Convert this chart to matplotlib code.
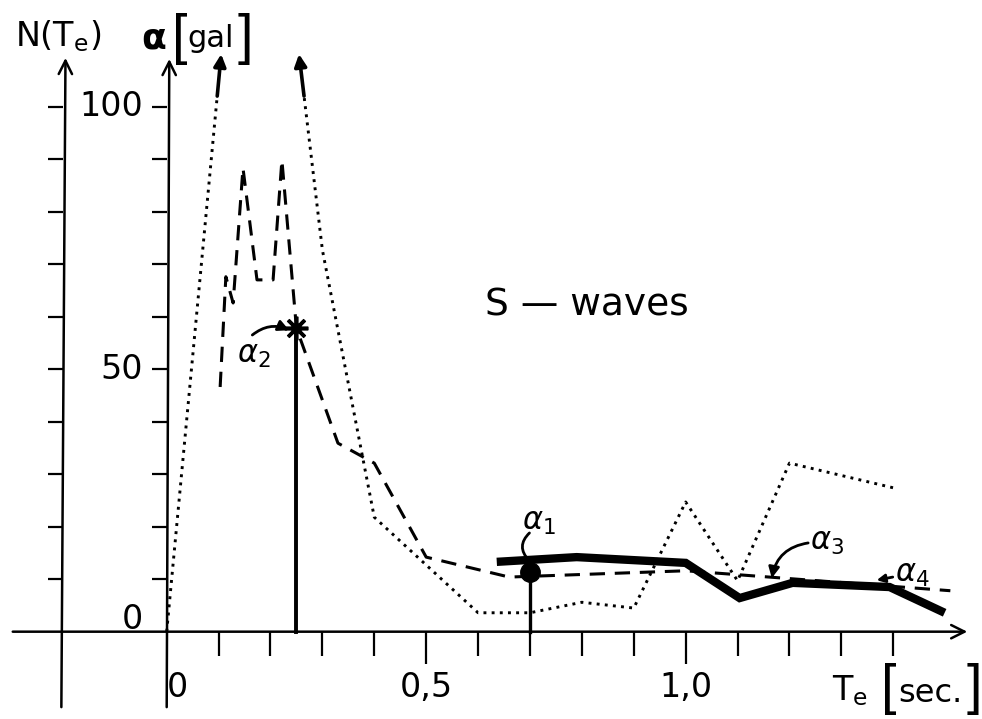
import numpy as np
import matplotlib
matplotlib.use('Agg')
import matplotlib.pyplot as plt
from matplotlib.patches import Rectangle

plt.rcParams['font.family'] = ['DejaVu Sans']
plt.rcParams['mathtext.fontset'] = 'dejavusans'

# dotted curve (goes off scale between ~0.1 and ~0.25 s)
dot_t = [0.0, 0.105, 0.255, 0.3, 0.4, 0.5, 0.6, 0.7, 0.8, 0.9, 1.0, 1.1, 1.2, 1.4]
dot_v = [0, 110, 110, 72.7, 21.8, 12.7, 3.6, 3.6, 5.6, 4.5, 24.7, 9.7, 32.1, 27.4]

# dashed curve
dash_t = [0.103, 0.114, 0.128, 0.147, 0.174, 0.205, 0.222, 0.25, 0.33, 0.4, 0.5, 0.66, 1.0, 1.51]
dash_v = [46.6, 67.6, 62.6, 88.3, 67.0, 67.0, 89.8, 57.8, 35.9, 32.1, 14.2, 10.4, 11.6, 7.8]

# thick solid curve
thick_t = [0.636, 0.79, 1.0, 1.104, 1.206, 1.393, 1.499]
thick_v = [13.3, 14.2, 13.1, 6.4, 9.3, 8.5, 3.6]

# marked points
a1_t, a1_v = 0.7, 11.4
a2_t, a2_v = 0.25, 57.8

x_major = [0.5, 1.0]
x_minor = [0.1, 0.2, 0.3, 0.4, 0.6, 0.7, 0.8, 0.9, 1.1, 1.2, 1.3, 1.4]
x_lab_vals = [0.0, 0.5, 1.0]
x_lab_text = ['0', '0,5', '1,0']
y_ticks = np.arange(10, 101, 10)
y_lab_vals = [0, 50, 100]
y_lab_text = ['0', '50', '100']

T_N = -0.199          # position of the N(Te) axis
xmin, xmax = -0.3212, 1.571
ymin, ymax = -16.63, 120.3
cap = 102             # dotted line is cut here, arrows go on

fig = plt.figure(figsize=(9.82, 7.19), dpi=100)
ax = fig.add_axes([0, 0, 1, 1])
ax.set_xlim(xmin, xmax)
ax.set_ylim(ymin, ymax)

for s in ['top', 'right']:
    ax.spines[s].set_visible(False)
ax.spines['left'].set_position(('data', 0))
ax.spines['bottom'].set_position(('data', 0))
ax.spines['left'].set_visible(False)
ax.spines['bottom'].set_visible(False)

ax.set_xticks(x_major)
ax.set_xticks(x_minor, minor=True)
ax.set_yticks(y_ticks)
ax.tick_params(axis='x', which='major', direction='out', length=23, width=1.6, labelbottom=False)
ax.tick_params(axis='x', which='minor', direction='out', length=17, width=1.6)
ax.tick_params(axis='y', direction='out', length=11, width=1.6, labelleft=False)

# N(Te) axis
sec = ax.secondary_yaxis((T_N - xmin) / (xmax - xmin))
sec.spines['left'].set_visible(False)
sec.set_yticks(y_ticks)
sec.tick_params(axis='y', direction='out', length=11, width=1.6, labelleft=False)

arr = dict(arrowstyle='->', lw=1.8, color='black', mutation_scale=24)
ax.annotate('', xy=(1.548, 0), xytext=(-0.302, 0), arrowprops=arr)
ax.annotate('', xy=(0.005, 109.6), xytext=(0, -14.9), arrowprops=arr)
ax.annotate('', xy=(T_N + 0.004, 109.8), xytext=(T_N - 0.004, -14.9), arrowprops=arr)

# dotted
ln, = ax.plot(dot_t, dot_v, color='black', lw=2.1, linestyle=(0, (1, 1.8)))
ln.set_clip_path(Rectangle((xmin, ymin), xmax - xmin, cap - ymin, transform=ax.transData))
t_up = np.interp(cap, dot_v[:2], dot_t[:2])
t_dn = np.interp(cap, dot_v[3:1:-1], dot_t[3:1:-1])
solid_arr = dict(arrowstyle='-|>', lw=2.6, color='black', mutation_scale=18, shrinkA=0, shrinkB=0)
ax.annotate('', xy=(dot_t[1], dot_v[1]), xytext=(t_up, cap), arrowprops=solid_arr)
ax.annotate('', xy=(dot_t[2], dot_v[2]), xytext=(t_dn, cap), arrowprops=solid_arr)

# dashed
ax.plot(dash_t, dash_v, color='black', lw=2.2, linestyle=(0, (5, 3.2)))

# thick
ax.plot(thick_t, thick_v, color='black', lw=6, solid_joinstyle='miter', solid_capstyle='butt')

# alpha_1 and alpha_2 markers
ax.plot([a1_t, a1_t], [0, a1_v], color='black', lw=2.4)
ax.plot(a1_t, a1_v, 'o', color='black', markersize=14)
ax.plot([a2_t, a2_t], [0, a2_v], color='black', lw=2.8)
ax.plot(a2_t, a2_v, marker=(8, 2, 0), color='black', markersize=17, markeredgewidth=2.6)

# tick labels
for v, s in zip(y_lab_vals, y_lab_text):
    ax.text(-0.046, v + (0.5 if v == 0 else 0), s, ha='right',
            va='baseline' if v == 0 else 'center', fontsize=24)
for t, s in zip(x_lab_vals, x_lab_text):
    ax.text(t, -12.4, s, ha='left' if t == 0 else 'center', va='baseline', fontsize=24)

# axis titles
brk = dict(fontsize=40, family=['Liberation Sans', 'DejaVu Sans'], ha='center', va='center')
ax.text(-0.292, 111.4, r'N(T$_\mathrm{e}$)', ha='left', va='baseline', fontsize=24)
ax.text(-0.026, 112.9, 'α', ha='center', va='center', fontsize=26, fontweight='bold')
ax.text(0.0257, 112.9, '[', **brk)
ax.text(0.039, 111.4, 'gal', ha='left', va='baseline', fontsize=22)
ax.text(0.151, 112.9, ']', **brk)

ax.text(1.282, -13.0, r'T$_\mathrm{e}$', ha='left', va='baseline', fontsize=24)
ax.text(1.392, -10.9, '[', **brk)
ax.text(1.409, -13.4, 'sec.', ha='left', va='baseline', fontsize=23)
ax.text(1.557, -10.9, ']', **brk)

ax.text(0.613, 60.3, 'S — waves', ha='left', va='baseline', fontsize=27)

# alpha labels
ax.text(0.685, 19.4, r'$\alpha_1$', ha='left', va='baseline', fontsize=22)
ax.text(0.135, 51.2, r'$\alpha_2$', ha='left', va='baseline', fontsize=22)
ax.text(1.239, 15.6, r'$\alpha_3$', ha='left', va='baseline', fontsize=22)
ax.text(1.403, 9.5, r'$\alpha_4$', ha='left', va='baseline', fontsize=22)

ax.annotate('', xy=(0.698, 13.6), xytext=(0.699, 18.8),
            arrowprops=dict(arrowstyle='-', lw=2, color='black', connectionstyle='arc3,rad=0.5',
                            shrinkA=0, shrinkB=0))
ax.annotate('', xy=(0.236, 57.4), xytext=(0.165, 56.5),
            arrowprops=dict(arrowstyle='-|>', lw=2, color='black', mutation_scale=16,
                            connectionstyle='arc3,rad=-0.3', shrinkA=0, shrinkB=0))
ax.annotate('', xy=(1.166, 10.2), xytext=(1.236, 16.9),
            arrowprops=dict(arrowstyle='-|>', lw=2, color='black', mutation_scale=16,
                            connectionstyle='arc3,rad=0.35', shrinkA=0, shrinkB=0))
ax.annotate('', xy=(1.368, 9.8), xytext=(1.399, 10.4),
            arrowprops=dict(arrowstyle='-|>', lw=2, color='black', mutation_scale=12,
                            shrinkA=0, shrinkB=0))

fig.savefig('out.png', dpi=100)
